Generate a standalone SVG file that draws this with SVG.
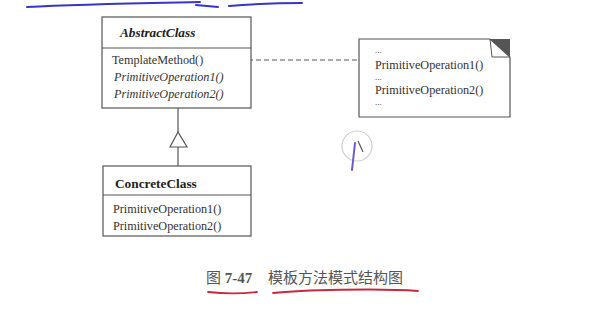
<svg xmlns="http://www.w3.org/2000/svg" width="613" height="309" viewBox="0 0 613 309">
<style>
.box{fill:#fff;stroke:#555;stroke-width:1.2}
.ln{stroke:#555;stroke-width:1.2;fill:none}
.t{font-family:"Liberation Serif","Times New Roman",serif;font-size:12.2px;fill:#333}
.d{font-size:9px}
.i{font-style:italic}
.b{font-weight:bold;font-size:13.3px;fill:#222}
.cap{font-family:"Liberation Serif","Noto Sans CJK SC",serif;font-size:15px;fill:#555}
.ink{fill:none;stroke-linecap:round}
</style>
<rect width="613" height="309" fill="#fff"/>
<g id="annotations">
<path class="ink" d="M27,7 C80,4 150,3 200,2" stroke="#3535c8" stroke-width="2"/>
<path class="ink" d="M196,5 L218,7" stroke="#3535c8" stroke-width="2"/>
<path class="ink" d="M229,6 C255,4 280,3 302,3" stroke="#3535c8" stroke-width="2"/>
<path class="ink" d="M208,292 C225,294 240,294 257,292" stroke="#c8283c" stroke-width="1.8"/>
<path class="ink" d="M273,293 C300,290 380,288 418,291" stroke="#c8283c" stroke-width="1.8"/>
<circle cx="357" cy="146" r="15" fill="none" stroke="#d0d0d0" stroke-width="1.2"/>
<path class="ink" d="M355,143 L352,170" stroke="#6a5acd" stroke-width="2"/>
<path d="M358,141 L363,152" stroke="#555" stroke-width="1.2"/>
</g>
<g id="connectors">
<circle cx="229" cy="60" r="2.5" fill="#fff" stroke="#555" stroke-width="1"/>
<line class="ln" x1="232" y1="60" x2="359" y2="60" stroke-dasharray="5,3"/>
<line class="ln" x1="178" y1="108" x2="178" y2="132"/>
<polygon points="178,132 170,147 187,147" fill="#fff" stroke="#555" stroke-width="1.2"/>
<line class="ln" x1="178" y1="147" x2="178" y2="166"/>
</g>
<g id="AbstractClass">
<rect class="box" x="102" y="17" width="149" height="91"/>
<line class="ln" x1="102" y1="48" x2="251" y2="48"/>
<text class="t b i" x="120" y="37">AbstractClass</text>
<text class="t" x="112" y="64">TemplateMethod()</text>
<text class="t i" x="114" y="81">PrimitiveOperation1()</text>
<text class="t i" x="114" y="98">PrimitiveOperation2()</text>
</g>
<g id="note">
<path class="box" d="M359,39 L490,39 L510,57 L510,117 L359,117 Z"/>
<path d="M490,39 L510,39 L510,57 Z" fill="#555"/>
<path d="M490,39 L492,57 L510,57" fill="none" stroke="#555" stroke-width="1"/>
<text class="t d" x="375" y="53">...</text>
<text class="t" x="375" y="69">PrimitiveOperation1()</text>
<text class="t d" x="375" y="80">...</text>
<text class="t" x="375" y="94">PrimitiveOperation2()</text>
<text class="t d" x="375" y="105">...</text>
</g>
<g id="ConcreteClass">
<rect class="box" x="103" y="166" width="148" height="70"/>
<line class="ln" x1="103" y1="195" x2="251" y2="195"/>
<text class="t b" x="115" y="188">ConcreteClass</text>
<text class="t" x="113" y="213">PrimitiveOperation1()</text>
<text class="t" x="113" y="230">PrimitiveOperation2()</text>
</g>
<g id="caption">
<text class="cap" x="206" y="283">图 <tspan font-weight="bold">7-47</tspan></text>
<text class="cap" x="268" y="283">模板方法模式结构图</text>
</g>
</svg>
